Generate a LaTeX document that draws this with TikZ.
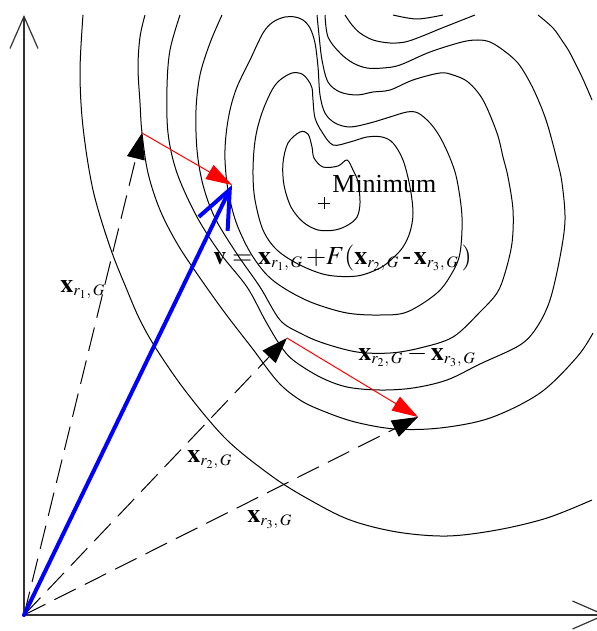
\documentclass[tikz,border=0pt]{standalone}
\usepackage{amsmath}
\usepackage{mathptmx}
\usepackage[no-math]{fontspec}
\setmainfont{Liberation Serif}
\DeclareMathSizes{13}{13}{8}{6}
\usetikzlibrary{arrows.meta}
\tikzset{
    % Line styles
    level/.style={line width=0.5pt, smooth, tension=0.55},
    axis/.style={line width=0.6pt, black!80, -{Straight Barb[length=16pt, width=14pt]}},
    % Vector styles
    pos vec/.style={line width=0.5pt, dash pattern=on 12pt off 5pt, -{Triangle[length=13pt, width=9pt]}},
    diff vec/.style={red, line width=0.5pt, -{Triangle[length=13pt, width=8pt]}},
    mut vec/.style={blue, line width=2pt, line cap=round, -{Straight Barb[length=19pt, width=16pt]}},
    % Text styles
    lbl/.style={font=\fontsize{13}{15}\selectfont, inner sep=0pt, anchor=base west},
}

\begin{document}
\begin{tikzpicture}[x=0.5pt, y=-0.5pt]
    \useasboundingbox (0,0) rectangle (597,631);
    \clip (0,0) rectangle (597,631);

    % Points
    \coordinate (O) at (24,615);
    \coordinate (ytip) at (24,15);
    \coordinate (xtip) at (606,615);
    \coordinate (xr1) at (142,133);
    \coordinate (xr2) at (287,338);
    \coordinate (xr3) at (418,417);
    \coordinate (v) at (232,185);
    \coordinate (xmin) at (324,203);

    % Contour lines
    \draw[level] plot coordinates {(83,15) (80,72) (83,127) (93,190) (110,247) (127,290) (140,320) (157,350) (187,393) (227,440) (273,477) (310,500) (350,520) (397,532) (447,536) (497,530) (547,518) (592,500)};
    \draw[level] plot coordinates {(145,15) (140,37) (138,67) (140,103) (142,133) (148,173) (160,210) (178,245) (200,278) (225,313) (252,348) (278,382) (300,400) (323,411) (355,422) (395,429) (440,428) (490,418) (540,393) (577,357) (593,333)};
    \draw[level] plot coordinates {(180,15) (170,50) (167,87) (168,133) (177,173) (197,217) (220,253) (247,287) (265,320) (280,345) (293,360) (320,377) (347,387) (380,390) (413,388) (447,380) (480,364) (520,345) (537,327) (550,300) (560,257) (565,220) (562,183) (557,160) (547,123) (537,97) (527,77) (517,62) (503,50) (490,42) (478,40) (462,42) (430,52) (400,65) (383,68) (367,68) (353,63) (340,53) (328,37) (325,15)};
    \draw[level] plot coordinates {(222,15) (210,43) (200,75) (196,110) (197,150) (203,185) (215,218) (237,254) (260,287) (280,320) (300,333) (323,343) (357,352) (390,353) (420,348) (453,337) (480,312) (497,293) (505,273) (512,243) (513,210) (508,177) (503,157) (497,133) (483,100) (468,82) (453,75) (440,73) (413,80) (390,90) (373,92) (357,95) (340,92) (328,82) (322,60) (319,35) (317,15)};
    \draw[level] plot[smooth cycle] coordinates {(225,160) (228,190) (236,222) (250,252) (267,275) (287,290) (313,303) (347,313) (380,315) (407,312) (437,293) (452,273) (460,253) (462,217) (457,180) (450,158) (440,137) (430,123) (418,113) (407,112) (390,117) (370,123) (350,127) (335,123) (325,113) (320,95) (318,67) (315,43) (310,28) (303,20) (295,17) (285,17) (273,22) (263,33) (250,60) (237,87) (230,110) (226,135)};
    \draw[level] plot[smooth cycle] coordinates {(292,73) (302,74) (308,80) (312,88) (313,100) (315,118) (322,132) (333,145) (350,142) (367,137) (382,137) (393,143) (403,160) (410,187) (413,213) (410,232) (403,247) (393,258) (380,268) (357,276) (327,275) (300,265) (277,250) (263,230) (255,200) (253,175) (254,150) (257,130) (263,110) (272,90) (280,80)};
    \draw[level] plot[smooth cycle] coordinates {(300,132) (308,134) (312,147) (314,158) (323,167) (338,166) (347,160) (353,170) (358,182) (360,203) (357,217) (348,225) (335,230) (318,230) (303,222) (291,207) (284,185) (283,163) (288,143)};
    \draw[level] plot coordinates {(345,15) (352,25) (360,33) (373,40) (390,43) (405,42) (420,37) (442,28) (475,15)};
    \draw[level] plot coordinates {(393,15) (417,19) (443,15)};
    \draw[level] plot coordinates {(538,15) (553,28) (563,42) (570,53) (582,77) (592,100)};

    % Minimum marker
    \draw[line width=0.5pt] (xmin) +(-6,0) -- +(6,0) (xmin) +(0,-6) -- +(0,6);

    % Axes
    \draw[axis] (O) -- (ytip);
    \draw[axis] (O) -- (xtip);

    % Target vectors
    \draw[pos vec] (O) -- (xr1);
    \draw[pos vec] (O) -- (xr2);
    \draw[pos vec] (O) -- (xr3);

    % Difference vectors
    \draw[diff vec] (xr1) -- (v);
    \draw[diff vec] (xr2) -- (xr3);

    % Mutant vector
    \draw[mut vec] (O) -- (v);

    % Labels
    \node[lbl] (minlbl) at (332,192) {Minimum};
    \node[lbl] (vlbl) at (213,264) {$\mathbf{v}=\mathbf{x}_{r_1,\,G}\,{+}F(\mathbf{x}_{r_2,\,G}\,\text{-}\,\mathbf{x}_{r_3,\,G}\,)$};
    \node[lbl] (xr1lbl) at (60,292) {$\mathbf{x}_{r_1,\,G}$};
    \node[lbl] (difflbl) at (358,360) {$\mathbf{x}_{r_2,\,G}-\mathbf{x}_{r_3,\,G}$};
    \node[lbl] (xr2lbl) at (187,462) {$\mathbf{x}_{r_2,\,G}$};
    \node[lbl] (xr3lbl) at (247,522) {$\mathbf{x}_{r_3,\,G}$};
\end{tikzpicture}
\end{document}
